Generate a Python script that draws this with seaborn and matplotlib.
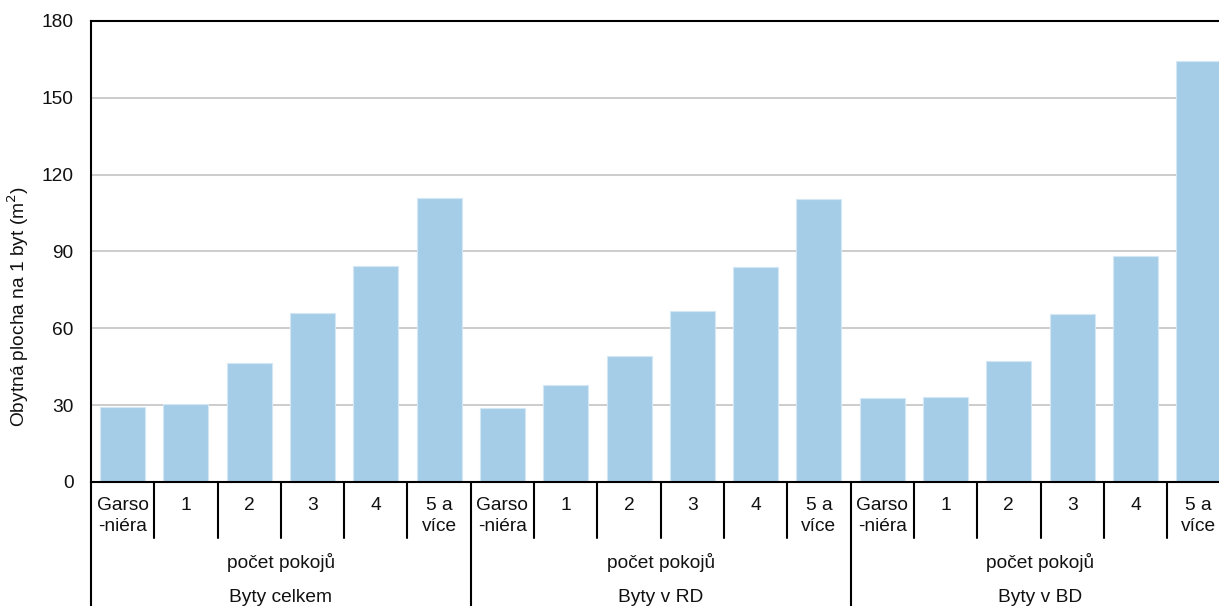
import matplotlib
matplotlib.use("Agg")
import matplotlib.pyplot as plt
import matplotlib.transforms as mtransforms
import seaborn as sns
import pandas as pd

groups = ["Byty celkem", "Byty v RD", "Byty v BD"]
rooms = ["Garso\n-niéra", "1", "2", "3", "4", "5 a\nvíce"]
sub_label = "počet pokojů"
celkem = [29.3, 30.5, 46.5, 66.0, 84.3, 110.9]
v_rd = [28.9, 37.9, 49.2, 66.8, 84.0, 110.5]
v_bd = [32.8, 33.3, 47.2, 65.5, 88.1, 164.4]
y_ticks = [0, 30, 60, 90, 120, 150, 180]
y_label = "Obytná plocha na 1 byt (m$^2$)"

values = [celkem, v_rd, v_bd]
rows = []
for g, vals in zip(groups, values):
    for r, v in zip(rooms, vals):
        rows.append({"group": g, "room": r, "key": f"{g}|{r}", "value": v})
df = pd.DataFrame(rows)

FS = 13.8
sns.set_style("white")
plt.rcParams["font.family"] = ["Liberation Sans", "DejaVu Sans"]
plt.rcParams["font.size"] = FS
plt.rcParams["text.color"] = "#111111"

fig = plt.figure(figsize=(12.19, 6.06), dpi=100)
W, H = 1219, 606
ax_left, ax_right, ax_top, ax_bot = 91, 91 + 18 * 63.3, 21, 482
ax = fig.add_axes([ax_left / W, 1 - ax_bot / H, (ax_right - ax_left) / W, (ax_bot - ax_top) / H])

sns.barplot(data=df, x="key", y="value", order=list(df["key"]), color="#a6cde8",
            saturation=1, width=0.71, edgecolor="#d4e7f5", linewidth=0.8, ax=ax)

ax.set_xlim(-0.5, len(df) - 0.5)
ax.set_ylim(0, 180)
ax.set_yticks(y_ticks)
ax.yaxis.grid(True, color="#c4c4c4", linewidth=1.2)
ax.set_axisbelow(True)
for s in ["left", "top", "bottom"]:
    ax.spines[s].set_visible(True)
    ax.spines[s].set_color("black")
    ax.spines[s].set_linewidth(1.5)
ax.spines["right"].set_visible(False)
ax.tick_params(axis="y", length=4.5, width=1.2, color="black", direction="out", pad=8,
               labelsize=FS, labelcolor="#111111")

ax.set_xticks(range(len(df)))
ax.set_xticklabels(list(df["room"]), fontsize=FS, linespacing=1.3)
ax.tick_params(axis="x", length=0, pad=11, labelcolor="#111111")
ax.set_xlabel("")
ax.set_ylabel(y_label, fontsize=FS, color="#111111")
ax.yaxis.set_label_coords(-0.0525, 0.38)

trans = mtransforms.blended_transform_factory(ax.transData, ax.transAxes)
ph = ax_bot - ax_top
short = -56 / ph
long_ = -(H - ax_bot + 2) / ph
n_per = len(rooms)
for k in range(len(df) + 1):
    x = k - 0.5
    y1 = long_ if k % n_per == 0 else short
    ax.plot([x, x], [0, y1], transform=trans, color="black", linewidth=1.5, clip_on=False)

for i, g in enumerate(groups):
    cx = i * n_per + (n_per - 1) / 2
    ax.text(cx, -80 / ph, sub_label, transform=trans, ha="center", va="center", fontsize=FS)
    ax.text(cx, -116 / ph, g, transform=trans, ha="center", va="center", fontsize=FS)

fig.savefig("out.png", dpi=100)
